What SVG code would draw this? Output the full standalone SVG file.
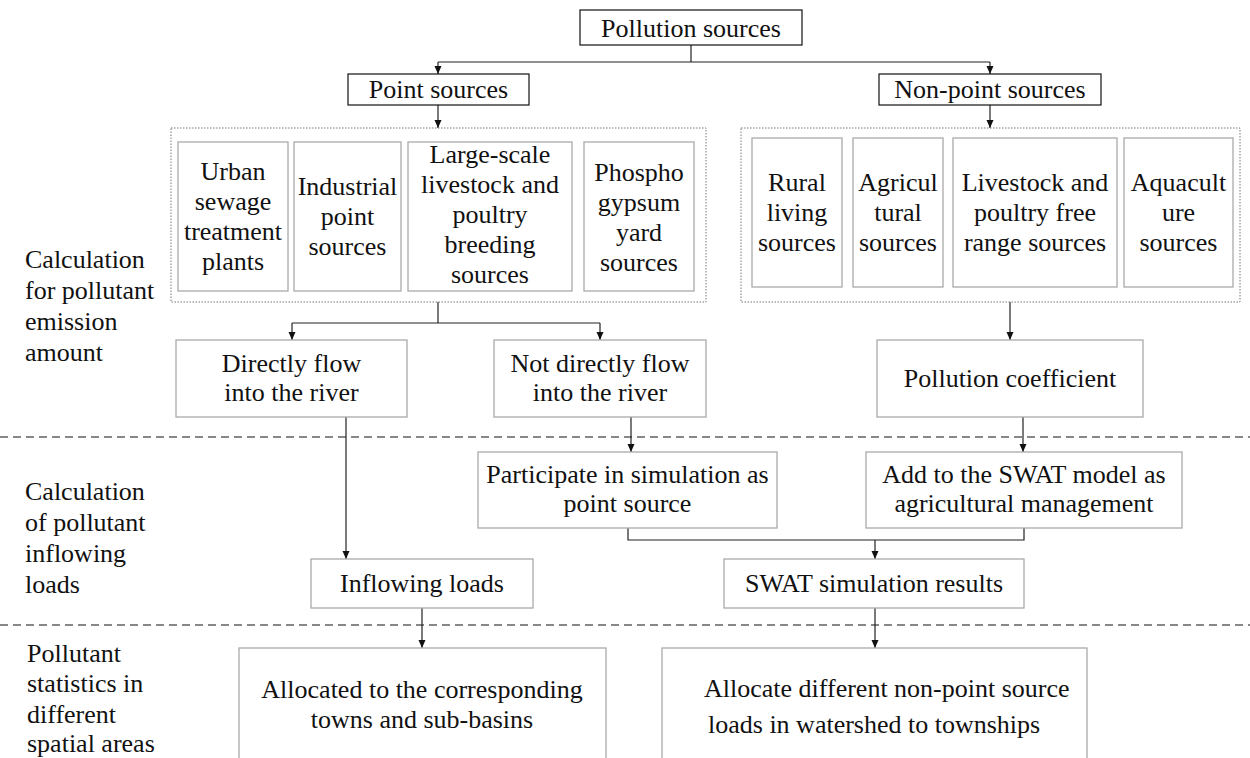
<svg xmlns="http://www.w3.org/2000/svg" width="1250" height="758" viewBox="0 0 1250 758">
<defs>
<marker id="arr" viewBox="0 0 8 8" refX="8" refY="4" markerWidth="8" markerHeight="8" markerUnits="userSpaceOnUse" orient="auto"><path d="M0,0.5 L8,4 L0,7.5 z" fill="#111"/></marker>
</defs>
<style>
text{font-family:"Liberation Serif","Times New Roman",serif;font-size:26px;fill:#111}
.c{text-anchor:middle}
.bk{fill:#fff;stroke:#111;stroke-width:1.2}
.gr{fill:#fff;stroke:#aaa;stroke-width:1.3}
.dot{fill:none;stroke:#777;stroke-width:1;stroke-dasharray:1.5 1.5}
.ln{fill:none;stroke:#222;stroke-width:1.2}
.ar{fill:none;stroke:#222;stroke-width:1.2;marker-end:url(#arr)}
.dash{stroke:#111;stroke-width:1.2;stroke-dasharray:8 5}
</style>
<rect width="1250" height="758" fill="#fff"/>

<g id="separators">
<line class="dash" x1="0" y1="437" x2="1250" y2="437"/>
<line class="dash" x1="0" y1="625" x2="1250" y2="625"/>
</g>

<g id="stage-labels">
<text x="25" y="268">Calculation</text>
<text x="25" y="299">for pollutant</text>
<text x="25" y="330">emission</text>
<text x="25" y="361">amount</text>
<text x="25" y="500">Calculation</text>
<text x="25" y="531">of pollutant</text>
<text x="25" y="562">inflowing</text>
<text x="25" y="593">loads</text>
<text x="27" y="662">Pollutant</text>
<text x="27" y="692">statistics in</text>
<text x="27" y="723">different</text>
<text x="27" y="752">spatial areas</text>
</g>

<g id="connectors">
<path class="ln" d="M691,45 V62 M438,62 H990"/>
<path class="ar" d="M438,62 V74"/>
<path class="ar" d="M990,62 V74"/>
<path class="ar" d="M438,105 V128"/>
<path class="ar" d="M990,105 V128"/>
<path class="ln" d="M438,302 V323 M292,323 H600"/>
<path class="ar" d="M292,323 V340"/>
<path class="ar" d="M600,323 V340"/>
<path class="ar" d="M1010,302 V340"/>
<path class="ar" d="M346,417 V559"/>
<path class="ar" d="M631,417 V452"/>
<path class="ar" d="M1023,417 V452"/>
<path class="ln" d="M628,528 V540 H1024 V528"/>
<path class="ar" d="M875,540 V559"/>
<path class="ar" d="M422,608 V648"/>
<path class="ar" d="M875,608 V648"/>
</g>

<g id="n-pollution-sources"><rect class="bk" x="580" y="10" width="222" height="35"/><text class="c" x="691" y="37">Pollution sources</text></g>
<g id="n-point-sources"><rect class="bk" x="348" y="74" width="181" height="31"/><text class="c" x="438.5" y="98">Point sources</text></g>
<g id="n-nonpoint-sources"><rect class="bk" x="879" y="74" width="222" height="31"/><text class="c" x="990" y="98">Non-point sources</text></g>

<g id="n-point-group"><rect class="dot" x="171" y="128" width="535" height="174"/></g>
<g id="n-urban"><rect class="gr" x="178" y="142" width="110" height="149"/>
<text class="c" x="233" y="180">Urban</text><text class="c" x="233" y="210">sewage</text><text class="c" x="233" y="240">treatment</text><text class="c" x="233" y="270">plants</text></g>
<g id="n-industrial"><rect class="gr" x="294" y="142" width="107" height="149"/>
<text class="c" x="347.5" y="195">Industrial</text><text class="c" x="347.5" y="225">point</text><text class="c" x="347.5" y="255">sources</text></g>
<g id="n-largescale"><rect class="gr" x="408" y="142" width="164" height="149"/>
<text class="c" x="490" y="163">Large-scale</text><text class="c" x="490" y="193">livestock and</text><text class="c" x="490" y="223">poultry</text><text class="c" x="490" y="253">breeding</text><text class="c" x="490" y="283">sources</text></g>
<g id="n-phospho"><rect class="gr" x="584" y="142" width="110" height="149"/>
<text class="c" x="639" y="181">Phospho</text><text class="c" x="639" y="211">gypsum</text><text class="c" x="639" y="241">yard</text><text class="c" x="639" y="271">sources</text></g>

<g id="n-nonpoint-group"><rect class="dot" x="741" y="128" width="499" height="174"/></g>
<g id="n-rural"><rect class="gr" x="752" y="138" width="90" height="149"/>
<text class="c" x="797" y="191">Rural</text><text class="c" x="797" y="221">living</text><text class="c" x="797" y="251">sources</text></g>
<g id="n-agricultural"><rect class="gr" x="853" y="138" width="90" height="149"/>
<text class="c" x="898" y="191">Agricul</text><text class="c" x="898" y="221">tural</text><text class="c" x="898" y="251">sources</text></g>
<g id="n-livestock"><rect class="gr" x="953" y="138" width="164" height="149"/>
<text class="c" x="1035" y="191">Livestock and</text><text class="c" x="1035" y="221">poultry free</text><text class="c" x="1035" y="251">range sources</text></g>
<g id="n-aquaculture"><rect class="gr" x="1124" y="138" width="109" height="149"/>
<text class="c" x="1178.5" y="191">Aquacult</text><text class="c" x="1178.5" y="221">ure</text><text class="c" x="1178.5" y="251">sources</text></g>

<g id="n-directly"><rect class="gr" x="176" y="340" width="231" height="77"/>
<text class="c" x="291.5" y="372">Directly flow</text><text class="c" x="291.5" y="401">into the river</text></g>
<g id="n-not-directly"><rect class="gr" x="494" y="340" width="212" height="77"/>
<text class="c" x="600" y="372">Not directly flow</text><text class="c" x="600" y="401">into the river</text></g>
<g id="n-coefficient"><rect class="gr" x="877" y="340" width="266" height="77"/>
<text class="c" x="1010" y="387">Pollution coefficient</text></g>

<g id="n-participate"><rect class="gr" x="478" y="452" width="299" height="76"/>
<text class="c" x="627.5" y="483">Participate in simulation as</text><text class="c" x="627.5" y="512">point source</text></g>
<g id="n-add-swat"><rect class="gr" x="866" y="452" width="316" height="76"/>
<text class="c" x="1024" y="483">Add to the SWAT model as</text><text class="c" x="1024" y="512">agricultural management</text></g>

<g id="n-inflowing"><rect class="gr" x="311" y="559" width="222" height="49"/>
<text class="c" x="422" y="592">Inflowing loads</text></g>
<g id="n-swat-results"><rect class="gr" x="724" y="559" width="300" height="49"/>
<text class="c" x="874" y="592">SWAT simulation results</text></g>

<g id="n-allocated"><rect class="gr" x="239" y="648" width="367" height="130"/>
<text class="c" x="422" y="698">Allocated to the corresponding</text><text class="c" x="422" y="728">towns and sub-basins</text></g>
<g id="n-allocate-nonpoint"><rect class="gr" x="662" y="648" width="425" height="130"/>
<text x="704" y="697">Allocate different non-point source</text><text x="708" y="733">loads in watershed to townships</text></g>
</svg>
